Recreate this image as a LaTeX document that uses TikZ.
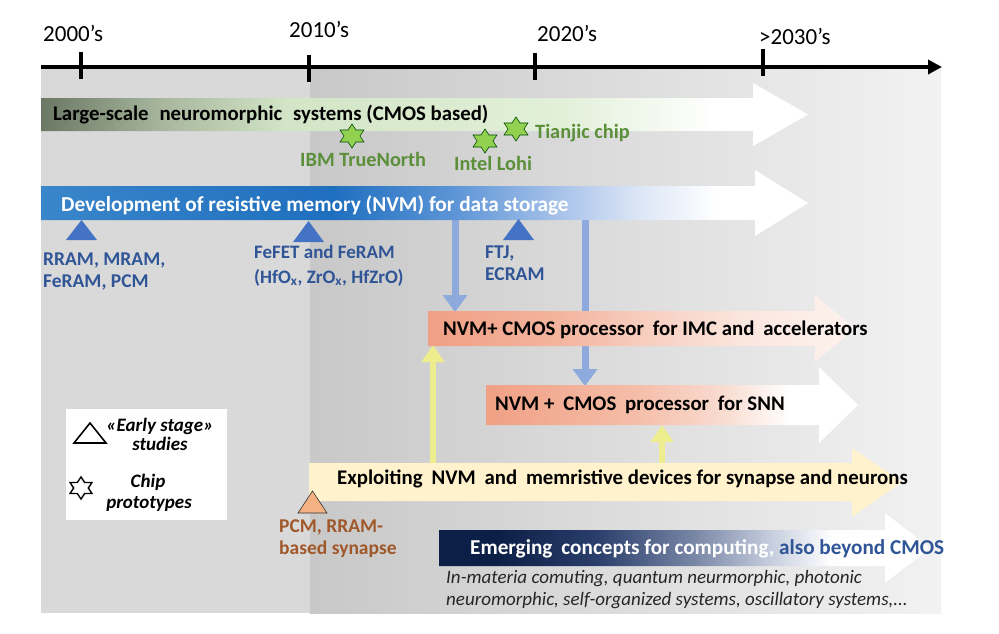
\documentclass[tikz,border=0pt]{standalone}
\usepackage{fontspec}
\setmainfont{Carlito}
\usetikzlibrary{arrows.meta}
% colours
\definecolor{leftbg}{HTML}{D9D9D9}
\definecolor{rbgL}{HTML}{C8C8C8}
\definecolor{rbgR}{HTML}{F2F2F2}
\definecolor{gA0}{HTML}{6B7864}
\definecolor{gA1}{HTML}{A8B79E}
\definecolor{gA2}{HTML}{D2E5C6}
\definecolor{gA3}{HTML}{E2F0D9}
\definecolor{bB0}{HTML}{3A86CA}
\definecolor{bB1}{HTML}{1F6FBF}
\definecolor{bB2}{HTML}{5D95D6}
\definecolor{bB3}{HTML}{AAC4EA}
\definecolor{bB4}{HTML}{DCE6F6}
\definecolor{sA0}{HTML}{F0A085}
\definecolor{sA1}{HTML}{F3B39D}
\definecolor{sA2}{HTML}{F7CDBE}
\definecolor{sA3}{HTML}{FBE6DE}
\definecolor{sA4}{HTML}{FDF3EF}
\definecolor{sB1}{HTML}{F5BDA8}
\definecolor{sB2}{HTML}{F9DCD1}
\definecolor{yelband}{HTML}{FFF2CC}
\definecolor{nE0}{HTML}{0C1F47}
\definecolor{nE1}{HTML}{2A3E6B}
\definecolor{nE2}{HTML}{7987A6}
\definecolor{nE3}{HTML}{C8CFDF}
\definecolor{bluearrc}{HTML}{8EAADC}
\definecolor{yelarrc}{HTML}{EEEE8E}
\definecolor{tribluec}{HTML}{4472C4}
\definecolor{trioragc}{HTML}{F4B183}
\definecolor{lblblue}{HTML}{2F5597}
\definecolor{lblgreen}{HTML}{5B8F3A}
\definecolor{lblbrown}{HTML}{A0582A}
\definecolor{starfill}{HTML}{92D050}
\definecolor{italc}{HTML}{262626}
% shadings (25bp..75bp span the path's bounding box)
\pgfdeclarehorizontalshading{shLarge}{100bp}{color(0bp)=(gA0); color(25bp)=(gA0); color(33bp)=(gA1); color(41bp)=(gA2); color(59bp)=(gA3); color(69bp)=(white); color(100bp)=(white)}
\pgfdeclarehorizontalshading{shNVM}{100bp}{color(0bp)=(bB0); color(25bp)=(bB0); color(44bp)=(bB1); color(52bp)=(bB2); color(59bp)=(bB3); color(64bp)=(bB4); color(69bp)=(white); color(100bp)=(white)}
\pgfdeclarehorizontalshading{shIMC}{100bp}{color(0bp)=(sA0); color(25bp)=(sA0); color(40bp)=(sA1); color(50bp)=(sA2); color(62bp)=(sA3); color(75bp)=(sA4); color(100bp)=(sA4)}
\pgfdeclarehorizontalshading{shSNN}{100bp}{color(0bp)=(sA0); color(25bp)=(sA0); color(45bp)=(sB1); color(57bp)=(sB2); color(66bp)=(white); color(100bp)=(white)}
\pgfdeclarehorizontalshading{shEmer}{100bp}{color(0bp)=(nE0); color(25bp)=(nE0); color(31bp)=(nE0); color(41bp)=(nE1); color(51bp)=(nE2); color(59bp)=(nE3); color(65bp)=(white); color(100bp)=(white)}
\tikzset{
  yeartxt/.style={anchor=base west, inner sep=0, font=\fontsize{23}{27}\selectfont},
  bandtxt/.style={anchor=base west, inner sep=0, font=\fontsize{20.8}{24}\selectfont\bfseries},
  lbltxt/.style={anchor=base west, inner sep=0, font=\fontsize{19.5}{23}\selectfont\bfseries},
  legtxt/.style={anchor=base, inner sep=0, font=\fontsize{19}{23}\selectfont\bfseries\itshape},
  itxt/.style={anchor=base west, inner sep=0, font=\fontsize{19}{22}\selectfont\itshape, text=italc},
  tick/.style={line width=3.5pt},
  bluearr/.style={draw=bluearrc, line width=7pt, -{Triangle[length=17pt,width=24pt]}},
  yelarr/.style={draw=yelarrc, line width=6pt, -{Triangle[length=17pt,width=22pt]}},
  star6/.pic={\path[pic actions, xscale=1.15] (90:12) -- (60:6.93) -- (30:12) -- (0:6.93) -- (-30:12) -- (-60:6.93) -- (-90:12) -- (-120:6.93) -- (-150:12) -- (180:6.93) -- (150:12) -- (120:6.93) -- cycle;},
}
\begin{document}
\begin{tikzpicture}[x=1pt,y=-1pt]
\useasboundingbox (0,0) rectangle (999,634);
\fill[white] (0,0) rectangle (999,634);
% background panels
\fill[leftbg] (41,68) rectangle (310,613);
\fill[left color=rbgL, right color=rbgR] (310,68) rectangle (941,613);
% time axis
\coordinate (axL) at (41,67);
\coordinate (axR) at (942,67);
\draw[line width=4pt, -{Triangle[length=14pt,width=14pt]}] (axL) -- (axR);
\coordinate (t1a) at (81,52);  \coordinate (t1b) at (81,79);
\coordinate (t2a) at (309,55); \coordinate (t2b) at (309,82);
\coordinate (t3a) at (535,53); \coordinate (t3b) at (535,80);
\coordinate (t4a) at (763,49); \coordinate (t4b) at (763,76);
\draw[tick] (t1a) -- (t1b);
\draw[tick] (t2a) -- (t2b);
\draw[tick] (t3a) -- (t3b);
\draw[tick] (t4a) -- (t4b);
\node[yeartxt] (y2000) at (43,42) {2000’s};
\node[yeartxt] (y2010) at (289,38) {2010’s};
\node[yeartxt] (y2020) at (537,42) {2020’s};
\node[yeartxt] (y2030) at (759,45) {>2030’s};
% connector arrows (drawn below the bands)
\coordinate (nvmA) at (455,219);
\coordinate (imcTop) at (455,312);
\coordinate (nvmB) at (585,219);
\coordinate (snnTop) at (585,386);
\coordinate (expA) at (433,464);
\coordinate (imcBot) at (433,345);
\coordinate (expB) at (662,464);
\coordinate (snnBot) at (662,425);
\draw[bluearr] (nvmA) -- (imcTop);
\draw[bluearr] (nvmB) -- (snnTop);
\draw[yelarr] (expA) -- (imcBot);
\draw[yelarr] (expB) -- (snnBot);
% band 1
\path[shading=shLarge] (41,98) -- (753,98) -- (753,83) -- (808,114.5) -- (753,146) -- (753,131) -- (41,131) -- cycle;
\node[bandtxt] (large) at (53,121) {Large-scale\hspace{0.3em} neuromorphic\hspace{0.3em} systems (CMOS based)};
% band 2
\path[shading=shNVM] (41,186) -- (755,186) -- (755,170) -- (808,203) -- (755,236) -- (755,220) -- (41,220) -- cycle;
\node[bandtxt, text=white, font=\fontsize{21.3}{24}\selectfont\bfseries] (nvm) at (61,211) {Development of resistive memory (NVM) for data storage};
% IMC band
\path[shading=shIMC] (428,311) -- (815,311) -- (815,295) -- (855,328.5) -- (815,362) -- (815,346) -- (428,346) -- cycle;
\node[bandtxt] (imc) at (443,335.5) {NVM+ CMOS processor\hspace{0.2em} for IMC and\hspace{0.2em} accelerators};
% SNN band
\path[shading=shSNN] (486,385) -- (819,385) -- (819,367) -- (858,405) -- (819,443) -- (819,425) -- (486,425) -- cycle;
\node[bandtxt] (snn) at (495,410) {NVM +\hspace{0.2em} CMOS\hspace{0.2em} processor\hspace{0.2em} for SNN};
% Exploiting band
\fill[yelband] (309,463) -- (852,463) -- (852,448) -- (902,482) -- (852,517) -- (852,501) -- (309,501) -- cycle;
\node[bandtxt] (expl) at (337,484.5) {Exploiting\hspace{0.2em} NVM\hspace{0.2em} and\hspace{0.2em} memristive devices for synapse and neurons};
% Emerging band
\path[shading=shEmer] (439,530) -- (885,530) -- (885,513) -- (930,548) -- (885,583) -- (885,566) -- (439,566) -- cycle;
\node[bandtxt, text=white, font=\fontsize{21.2}{24}\selectfont\bfseries] (emer) at (470,554) {Emerging\hspace{0.2em} concepts for computing, \textcolor{lblblue}{also beyond CMOS}};
\node[itxt] (emer1) at (446,583) {In-materia comuting, quantum neurmorphic, photonic};
\node[itxt] (emer2) at (446,605) {neuromorphic, self-organized systems, oscillatory systems,...};
% stars (chip prototypes)
\pic[fill=starfill, draw=black!70!green, line width=0.6pt] at (352,136) {star6};
\pic[fill=starfill, draw=black!70!green, line width=0.6pt] at (485,141) {star6};
\pic[fill=starfill, draw=black!70!green, line width=0.6pt] at (516,129) {star6};
\node[lbltxt, text=lblgreen, font=\fontsize{20.3}{24}\selectfont\bfseries] (ibm) at (300,166) {IBM TrueNorth};
\node[lbltxt, text=lblgreen, font=\fontsize{20.3}{24}\selectfont\bfseries] (lohi) at (454,170.5) {Intel Lohi};
\node[lbltxt, text=lblgreen, font=\fontsize{20.3}{24}\selectfont\bfseries] (tian) at (535,138) {Tianjic chip};
% triangles (early stage studies)
\fill[tribluec] (66,240) -- (97,240) -- (81.5,220) -- cycle;
\fill[tribluec] (293,242) -- (324,242) -- (308.5,221) -- cycle;
\fill[tribluec] (503,240) -- (534,240) -- (518.5,219) -- cycle;
\filldraw[fill=trioragc, draw=black!80, line width=0.6pt] (298,513) -- (327,513) -- (312.5,491) -- cycle;
\node[lbltxt, text=lblblue] (rr1) at (43,265) {RRAM, MRAM,};
\node[lbltxt, text=lblblue] (rr2) at (43,287) {FeRAM, PCM};
\node[lbltxt, text=lblblue, font=\fontsize{19}{23}\selectfont\bfseries] (fe1) at (254,258) {FeFET and FeRAM};
\node[lbltxt, text=lblblue, font=\fontsize{19}{23}\selectfont\bfseries] (fe2) at (254,283) {(HfO\textsubscript{x}, ZrO\textsubscript{x}, HfZrO)};
\node[lbltxt, text=lblblue] (ftj1) at (485,258) {FTJ,};
\node[lbltxt, text=lblblue] (ftj2) at (485,280) {ECRAM};
\node[lbltxt, text=lblbrown] (pcm1) at (279,532) {PCM, RRAM-};
\node[lbltxt, text=lblbrown] (pcm2) at (279,554) {based synapse};
% legend
\fill[white] (66,409) rectangle (227,520);
\draw[line width=1.6pt] (74,443) -- (106,443) -- (90,423) -- cycle;
\pic[draw=black, fill=white, line width=1.4pt, scale=0.92] at (81,488) {star6};
\node[legtxt] (leg1) at (160,431) {«Early stage»};
\node[legtxt] (leg2) at (160,450) {studies};
\node[legtxt] (leg3) at (148,487) {Chip};
\node[legtxt] (leg4) at (149,508) {prototypes};
\end{tikzpicture}
\end{document}
